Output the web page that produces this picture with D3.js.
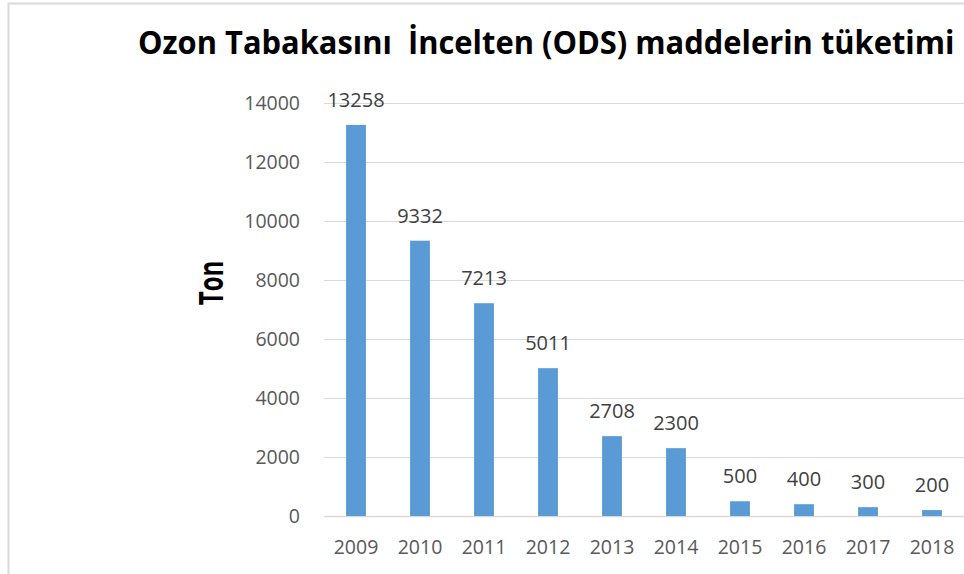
<!DOCTYPE html>
<html>
<head>
<meta charset="utf-8">
<script src="https://cdn.jsdelivr.net/npm/d3@7"></script>
<style>
  html, body { margin: 0; padding: 0; background: #fff; }
  svg { display: block; }
</style>
</head>
<body>
<div class="chartBox"></div>
<script>
var years = ['2009', '2010', '2011', '2012', '2013', '2014', '2015', '2016', '2017', '2018'];
var values = [13258, 9332, 7213, 5011, 2708, 2300, 500, 400, 300, 200];
var yTicks = [0, 2000, 4000, 6000, 8000, 10000, 12000, 14000];

function drawChart() {
    var width = 964, height = 574;
    var plotLeft = 324, plotRight = 964, plotTop = 103, plotBottom = 516;

    var svg = d3.select('.chartBox')
        .append('svg')
        .attr('width', width)
        .attr('height', height);

    // outer chart frame (cropped at right and bottom)
    svg.append('path')
        .attr('d', 'M8.5,' + height + 'V3.5H' + width)
        .attr('fill', 'none')
        .attr('stroke', '#d9d9d9')
        .attr('stroke-width', 2);

    var x = d3.scaleBand()
        .domain(years)
        .range([plotLeft, plotRight])
        .padding(0);

    var y = d3.scaleLinear()
        .domain([0, 14000])
        .range([plotBottom, plotTop]);

    // gridlines
    svg.append('g')
        .selectAll('line')
        .data(yTicks)
        .enter().append('line')
        .attr('x1', plotLeft)
        .attr('x2', plotRight)
        .attr('y1', d => Math.round(y(d)) + 0.5)
        .attr('y2', d => Math.round(y(d)) + 0.5)
        .attr('stroke', '#d9d9d9')
        .attr('stroke-width', d => d === 0 ? 1.5 : 1);

    // y tick labels
    var yAxis = svg.append('g')
        .attr('transform', 'translate(' + (plotLeft - 24) + ',0)')
        .call(d3.axisLeft(y).tickValues(yTicks).tickSize(0).tickPadding(0).tickFormat(d3.format('d')));
    yAxis.select('.domain').remove();
    yAxis.selectAll('text')
        .attr('fill', '#595959')
        .style('font-family', '"Open Sans", sans-serif')
        .style('font-size', '19.5px');

    // x labels
    var xAxis = svg.append('g')
        .attr('transform', 'translate(0,' + plotBottom + ')')
        .call(d3.axisBottom(x).tickSize(0).tickPadding(24));
    xAxis.select('.domain').remove();
    xAxis.selectAll('text')
        .attr('fill', '#595959')
        .style('font-family', '"Open Sans", sans-serif')
        .style('font-size', '19.5px');

    var barW = x.bandwidth() * 0.31;

    svg.append('g')
        .selectAll('rect')
        .data(values)
        .enter().append('rect')
        .attr('x', (d, i) => x(years[i]) + (x.bandwidth() - barW) / 2)
        .attr('y', d => y(d))
        .attr('width', barW)
        .attr('height', d => plotBottom - y(d))
        .attr('fill', '#5b9bd5');

    // value labels
    svg.append('g')
        .selectAll('text')
        .data(values)
        .enter().append('text')
        .attr('x', (d, i) => x(years[i]) + x.bandwidth() / 2)
        .attr('y', d => y(d) - 18)
        .attr('text-anchor', 'middle')
        .attr('fill', '#404040')
        .style('font-family', '"Open Sans", sans-serif')
        .style('font-size', '20px')
        .text(d => d);

    // title - narrow bold face in the original, so stretch vertically
    var title = svg.append('text')
        .attr('x', 0)
        .attr('y', 0)
        .attr('fill', '#000')
        .style('font-family', '"Open Sans", sans-serif')
        .style('font-weight', 'bold')
        .style('font-size', '27px')
        .style('white-space', 'pre')
        .text('Ozon Tabakasını  İncelten (ODS) maddelerin tüketimi');
    var tw = title.node().getComputedTextLength();
    var fs = 27 * 817 / tw;
    title.style('font-size', fs + 'px')
        .attr('transform', 'translate(138,54) scale(1,' + (22.6 / (0.714 * fs)) + ')');

    // y axis title
    svg.append('text')
        .attr('transform', 'translate(223,283) rotate(-90) scale(1,1.4)')
        .attr('text-anchor', 'middle')
        .attr('fill', '#000')
        .style('font-family', '"Open Sans", sans-serif')
        .style('font-weight', 'bold')
        .style('font-size', '24px')
        .text('Ton');
}

drawChart();
</script>
</body>
</html>
